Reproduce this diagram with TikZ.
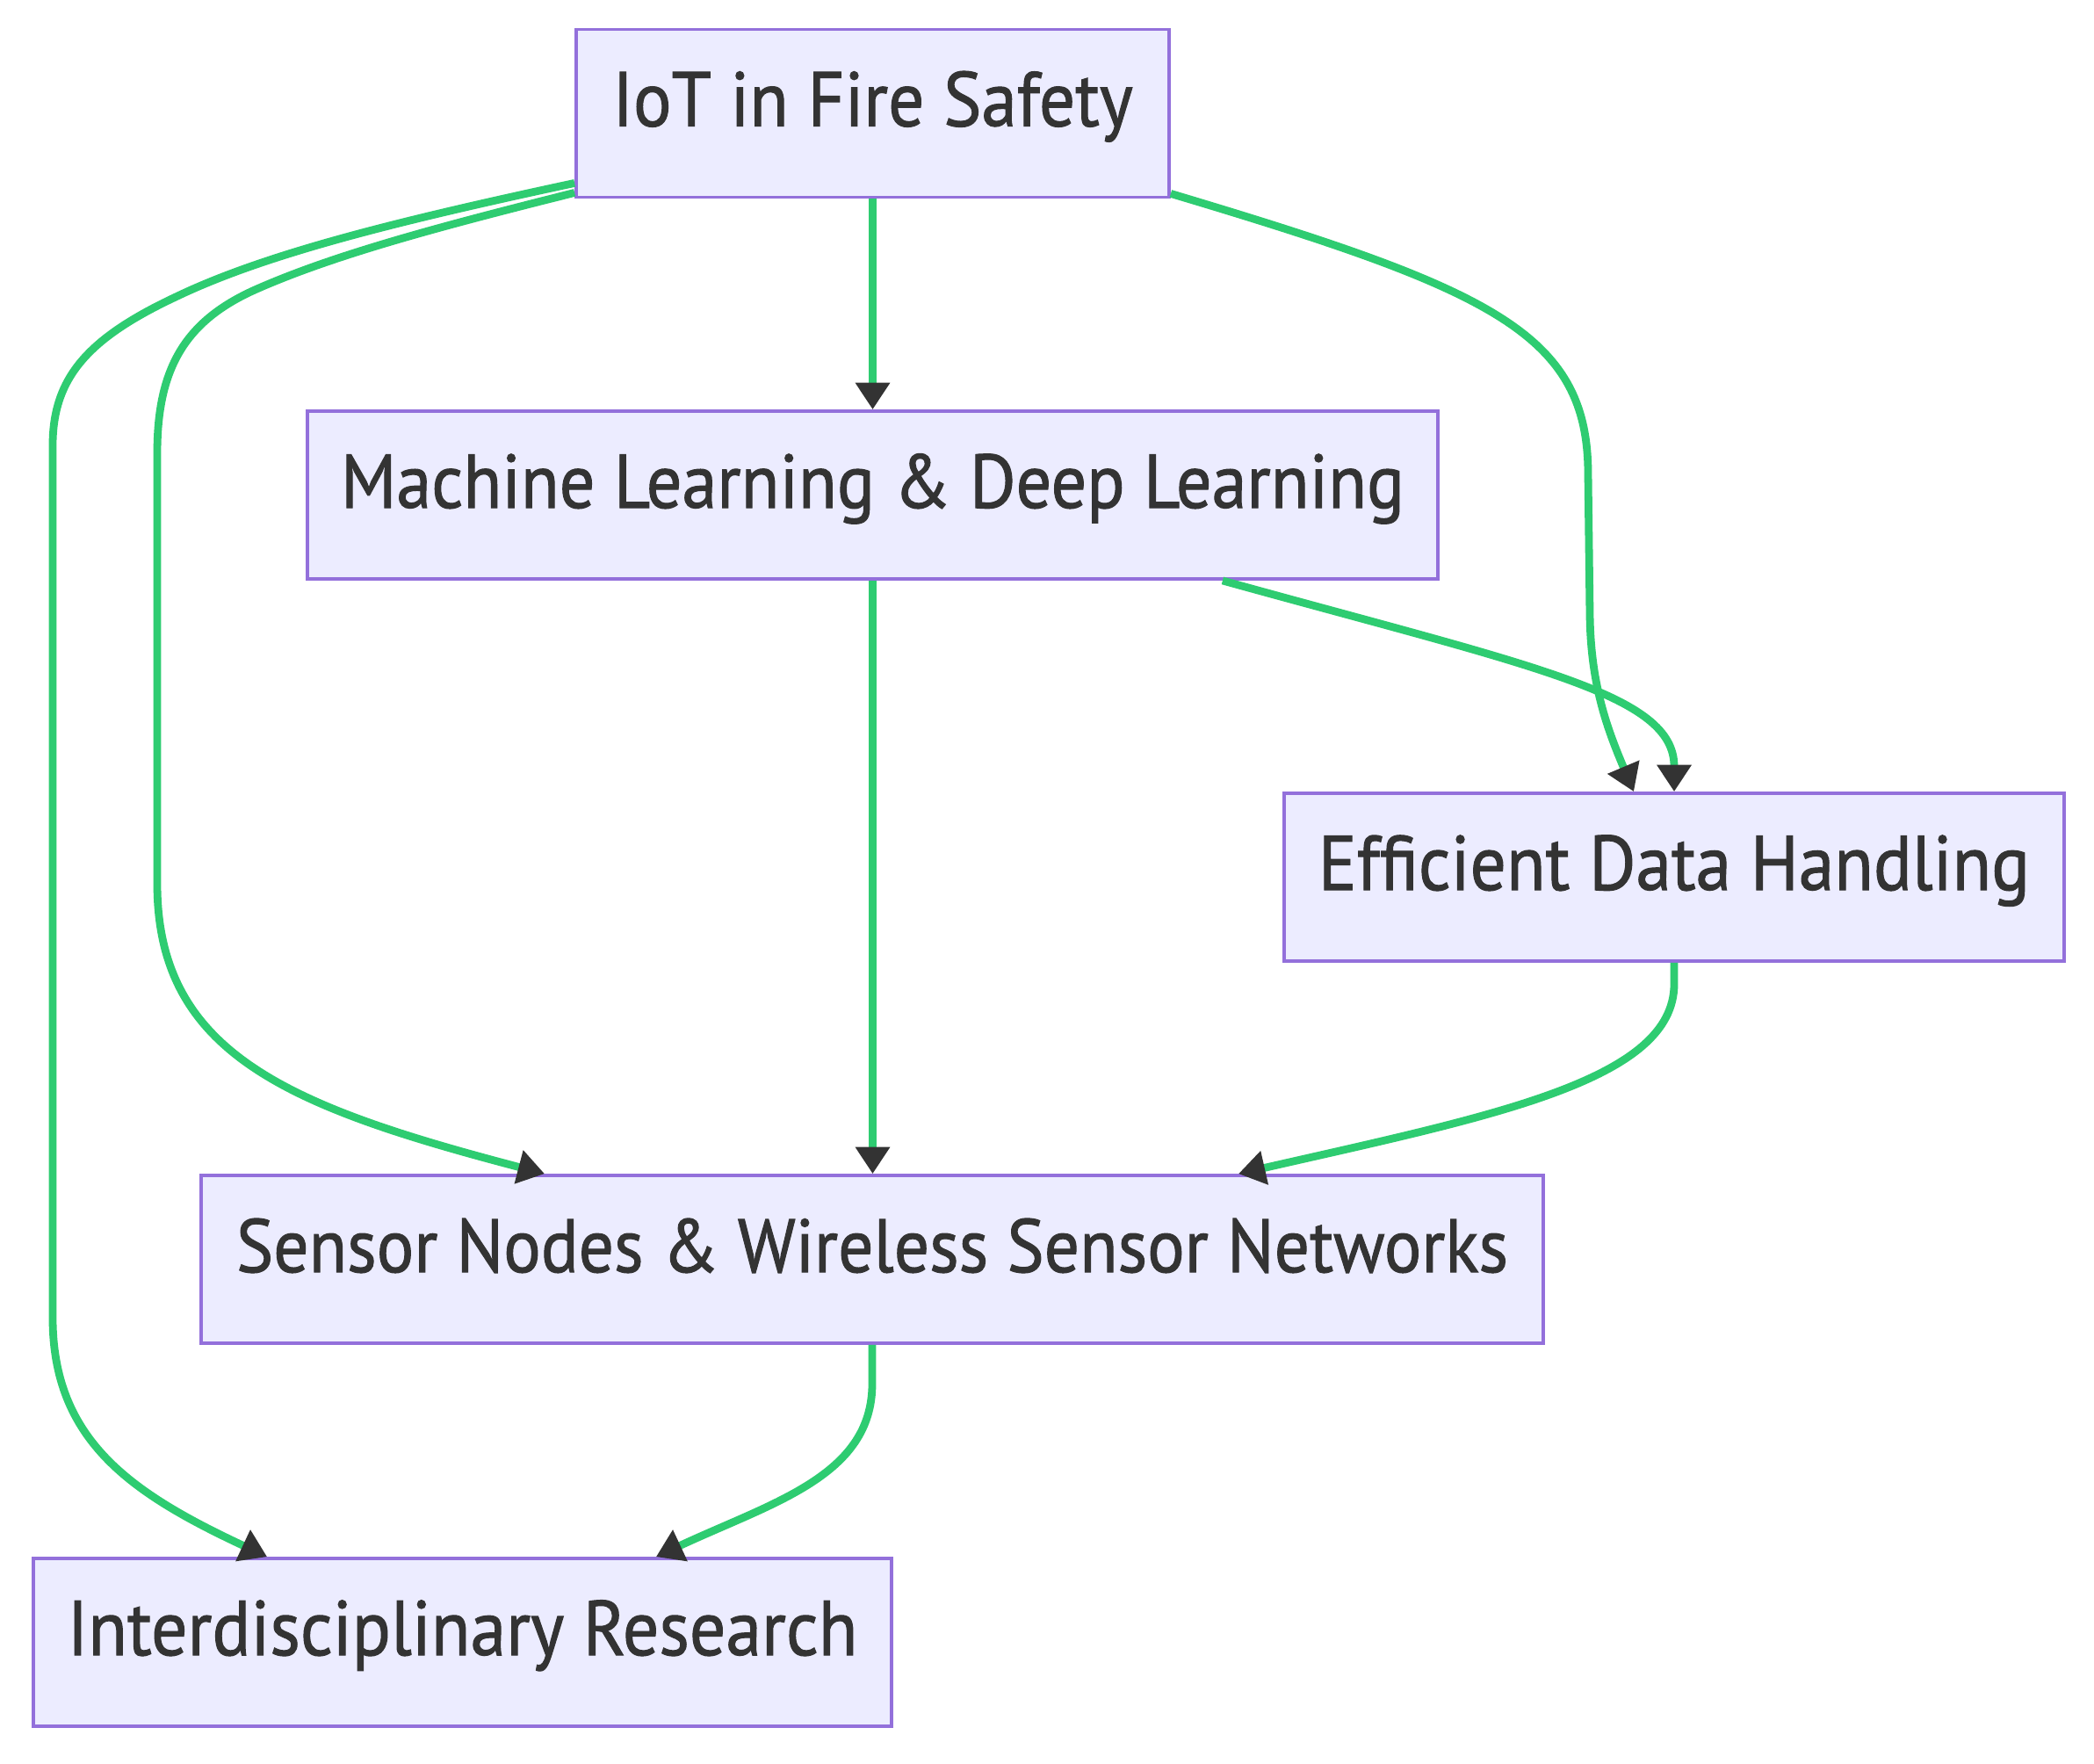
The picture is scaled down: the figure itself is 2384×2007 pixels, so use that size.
\documentclass[tikz,border=0pt]{standalone}
\usepackage{fontspec}
\setmainfont{PT Sans}[FakeBold=1.2]
\usetikzlibrary{arrows.meta,calc}
\definecolor{boxfill}{HTML}{ECECFF}
\definecolor{boxline}{HTML}{9370DB}
\definecolor{txt}{HTML}{333333}
\definecolor{edgec}{HTML}{2ECC71}
\definecolor{tipc}{HTML}{333333}
\newcommand{\boxtext}[2]{\resizebox{#1}{!}{\scalebox{1}[1.08]{#2}}}
\begin{document}
\begin{tikzpicture}[x=0.25pt,y=-0.25pt,
  box/.style={draw=boxline, fill=boxfill, line width=0.95pt, minimum height=47.75pt,
    inner sep=0pt, text height=10pt, text depth=2.75pt, text=txt,
    font=\fontsize{20}{24}\selectfont},
  link/.style={draw=edgec, line width=2.2pt,
    -{Triangle[width=9.4pt,length=7.6pt,color=tipc]}}]
\useasboundingbox (0,0) rectangle (2384,2007);
\fill[white] (0,0) rectangle (2384,2007);

\node[box, minimum width=168.75pt] (iot) at (993.5,129) {\boxtext{148.1pt}{IoT in Fire Safety}};
\node[box, minimum width=321.75pt] (ml) at (993.5,563.5) {\boxtext{302.75pt}{Machine Learning \& Deep Learning}};
\node[box, minimum width=222pt] (edh) at (1906,998.5) {\boxtext{202.5pt}{Efficient Data Handling}};
\node[box, minimum width=382pt] (sn) at (993,1433.5) {\boxtext{362pt}{Sensor Nodes \& Wireless Sensor Networks}};
\node[box, minimum width=244.25pt] (ir) at (526.5,1869.5) {\boxtext{225pt}{Interdisciplinary Research}};

\draw[link] (iot.south) -- (ml.north);
\draw[link] (ml.south) -- (ml.south |- sn.north);
\draw[link] ([yshift=1.5pt]iot.south east) .. controls (1700,330) and (1808,380) .. (1808,540) -- (1810,700) .. controls (1811,780) and (1830,830) .. ([xshift=-11.5pt]edh.north);
\draw[link] ([xshift=99.6pt]ml.south) .. controls (1750,760) and (1906,790) .. (edh.north);
\draw[link] ([yshift=1.75pt]iot.south west) .. controls (500,258) and (380,290) .. (290,330) .. controls (210,366) and (179,420) .. (179,516) -- (179,1006) .. controls (179,1200) and (330,1260) .. ([xshift=-93.25pt]sn.north);
\draw[link] ([yshift=4.5pt]iot.south west) .. controls (446,253) and (300,290) .. (200,338) .. controls (100,385) and (60,430) .. (60,507) -- (60,1500) .. controls (60,1640) and (150,1700) .. ([xshift=-55.6pt]ir.north);
\draw[link] (edh.south) -- (1906,1120) .. controls (1906,1230) and (1700,1270) .. ([xshift=104.25pt]sn.north);
\draw[link] (sn.south) -- (993,1575) .. controls (993,1680) and (880,1710) .. ([xshift=55.1pt]ir.north);
\end{tikzpicture}
\end{document}
